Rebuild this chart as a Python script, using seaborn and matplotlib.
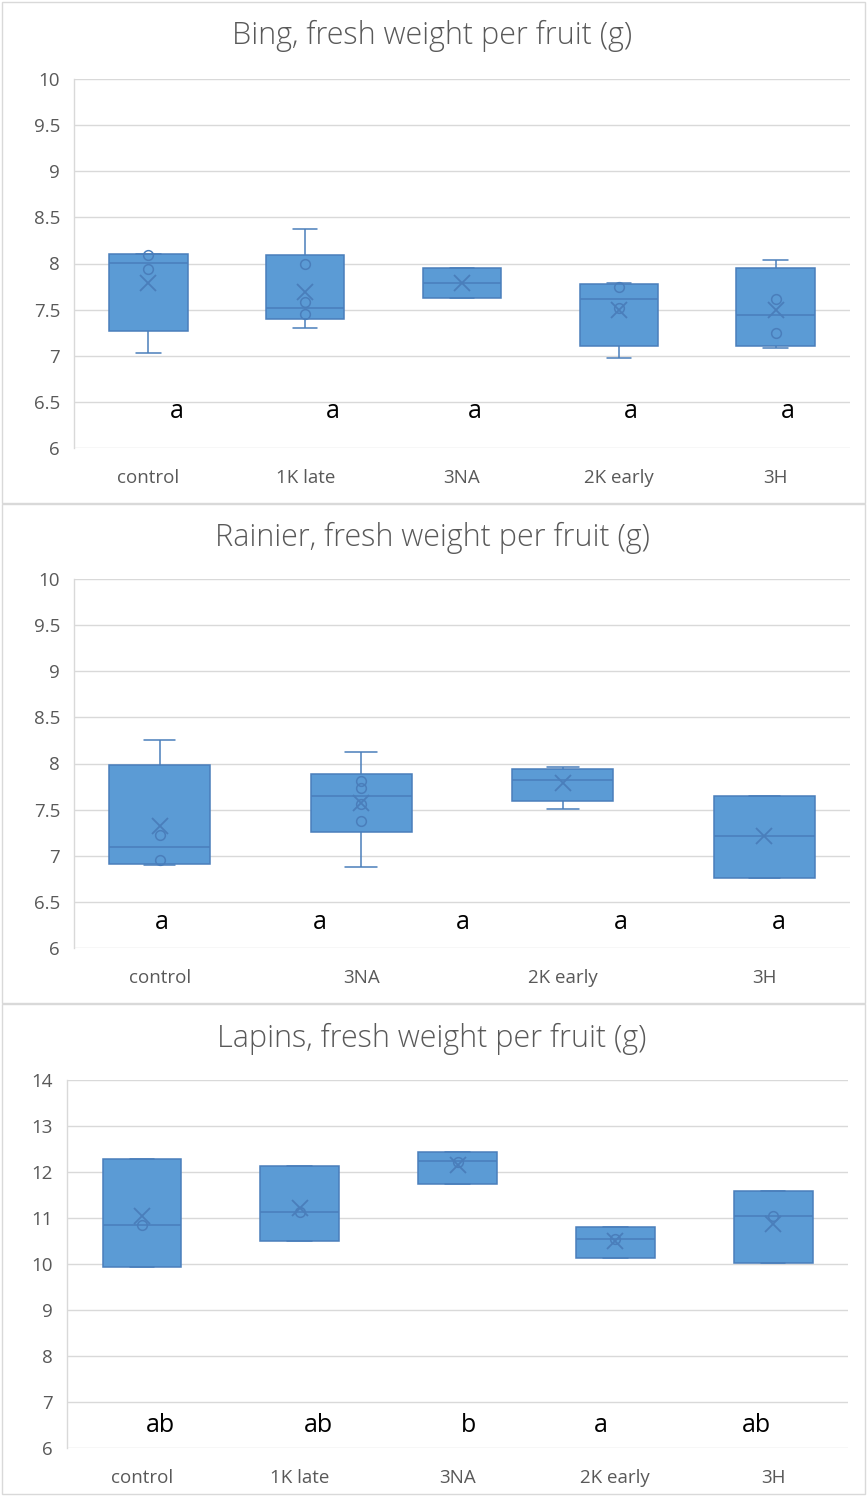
import numpy as np
import pandas as pd
import matplotlib
matplotlib.use("Agg")
import matplotlib.pyplot as plt
import seaborn as sns
from matplotlib.patches import Rectangle
from matplotlib.ticker import FuncFormatter

# ---------------- data ----------------
bing_cats = ["control", "1K late", "3NA", "2K early", "3H"]
bing_min = [7.03, 7.30, 7.63, 6.98, 7.08]
bing_q1 = [7.27, 7.40, 7.63, 7.11, 7.11]
bing_med = [8.01, 7.52, 7.79, 7.62, 7.44]
bing_q3 = [8.10, 8.09, 7.95, 7.78, 7.95]
bing_max = [8.10, 8.37, 7.95, 7.79, 8.04]
bing_mean = [7.79, 7.69, 7.79, 7.50, 7.50]
bing_points = [[8.09, 7.94], [7.99, 7.58, 7.45], [], [7.74, 7.52], [7.62, 7.25]]
bing_letters = ["a", "a", "a", "a", "a"]

rainier_cats = ["control", "3NA", "2K early", "3H"]
rainier_min = [6.90, 6.88, 7.51, 6.76]
rainier_q1 = [6.91, 7.26, 7.59, 6.76]
rainier_med = [7.09, 7.65, 7.82, 7.21]
rainier_q3 = [7.98, 7.89, 7.94, 7.65]
rainier_max = [8.26, 8.12, 7.96, 7.65]
rainier_mean = [7.32, 7.57, 7.79, 7.21]
rainier_points = [[7.22, 6.95], [7.81, 7.73, 7.56, 7.38], [], []]
rainier_letters = ["a", "a", "a", "a", "a"]

lapins_cats = ["control", "1K late", "3NA", "2K early", "3H"]
lapins_min = [9.94, 10.49, 11.74, 10.14, 10.02]
lapins_q1 = [9.94, 10.49, 11.74, 10.14, 10.02]
lapins_med = [10.85, 11.13, 12.25, 10.54, 11.04]
lapins_q3 = [12.29, 12.14, 12.44, 10.80, 11.59]
lapins_max = [12.29, 12.14, 12.44, 10.80, 11.59]
lapins_mean = [11.04, 11.21, 12.15, 10.50, 10.88]
lapins_points = [[10.85], [11.13], [12.21], [10.55], [11.05]]
lapins_letters = ["ab", "ab", "b", "a", "ab"]

titles = ["Bing, fresh weight per fruit (g)",
          "Rainier, fresh weight per fruit (g)",
          "Lapins, fresh weight per fruit (g)"]

# ---------------- style ----------------
sns.set_theme(style="white")
plt.rcParams['font.family'] = ['Open Sans', 'DejaVu Sans']

FILL = "#5B9BD5"
EDGE = "#4A7EBB"
GRID = "#D9D9D9"
TXT = "#595959"

W, H = 867, 1496
fig = plt.figure(figsize=(W / 100, H / 100), dpi=100)


def px_axes(l, t, r, b):
    return fig.add_axes([l / W, 1 - b / H, (r - l) / W, (b - t) / H])


def panel(ax, cats, lo, q1, med, q3, hi, mean, points, letters,
          letter_x, letter_y, ylim, ystep):
    rows = []
    for c, a, b, m, d, e in zip(cats, lo, q1, med, q3, hi):
        for v in (a, b, m, d, e):
            rows.append((c, v))
    df = pd.DataFrame(rows, columns=["cat", "val"])
    sns.boxplot(data=df, x="cat", y="val", order=cats, ax=ax,
                whis=(0, 100), width=0.5, color=FILL, saturation=1,
                linecolor=EDGE, linewidth=1.1, showfliers=False)
    # narrower caps like the original
    for cont in ax.containers:
        caps = getattr(cont, "caps", None)
        if caps is None:
            continue
        for cap in caps:
            x = np.asarray(cap.get_xdata(), dtype=float)
            c = x.mean()
            cap.set_xdata([c - 0.078, c + 0.078])
    for i, (pts, mn) in enumerate(zip(points, mean)):
        if pts:
            ax.plot([i] * len(pts), pts, ls="none", marker="o", ms=7,
                    mfc="none", mec=EDGE, mew=1.1, zorder=5)
        ax.plot([i], [mn], ls="none", marker="x", ms=11, mec=EDGE,
                mew=1.3, zorder=5)

    ax.set_ylim(*ylim)
    ax.set_yticks(np.arange(ylim[0], ylim[1] + ystep / 2, ystep))
    ax.yaxis.set_major_formatter(FuncFormatter(lambda v, _: f"{v:g}"))
    ax.set_xlabel("")
    ax.set_ylabel("")
    ax.yaxis.grid(True, color=GRID, lw=1.0)
    ax.xaxis.grid(False)
    ax.set_axisbelow(True)
    for s in ("top", "right", "bottom"):
        ax.spines[s].set_visible(False)
    ax.spines["left"].set_color(GRID)
    ax.spines["left"].set_linewidth(1.0)
    ax.tick_params(axis="x", length=0, pad=15, labelsize=13.5, colors=TXT)
    ax.tick_params(axis="y", length=0, pad=10, labelsize=13.5, colors=TXT)
    for lt, fx in zip(letters, letter_x):
        ax.text(fx, letter_y, lt, transform=ax.transAxes, ha="center",
                va="center", fontsize=18, color="black")


# panel borders
for (t, b) in [(2, 503), (504, 1003), (1004, 1494)]:
    fig.add_artist(Rectangle((2 / W, 1 - b / H), (865 - 2) / W, (b - t) / H,
                             transform=fig.transFigure, fill=False,
                             edgecolor=GRID, lw=1.0))

ax1 = px_axes(74, 79, 850, 448)
panel(ax1, bing_cats, bing_min, bing_q1, bing_med, bing_q3, bing_max,
      bing_mean, bing_points, bing_letters,
      [0.133, 0.334, 0.517, 0.718, 0.920], 0.098, (6, 10), 0.5)

ax2 = px_axes(74, 579, 850, 948)
panel(ax2, rainier_cats, rainier_min, rainier_q1, rainier_med, rainier_q3,
      rainier_max, rainier_mean, rainier_points, rainier_letters,
      [0.113, 0.317, 0.501, 0.705, 0.908], 0.07, (6, 10), 0.5)

ax3 = px_axes(67, 1080, 848, 1448)
panel(ax3, lapins_cats, lapins_min, lapins_q1, lapins_med, lapins_q3,
      lapins_max, lapins_mean, lapins_points, lapins_letters,
      [0.119, 0.322, 0.514, 0.683, 0.883], 0.06, (6, 14), 1)

for ttl, ty in zip(titles, [36, 538, 1039]):
    fig.text(432 / W, 1 - ty / H, ttl, ha="center", va="center",
             fontsize=22, color=TXT, fontweight="light")

fig.savefig("out.png", dpi=100)
